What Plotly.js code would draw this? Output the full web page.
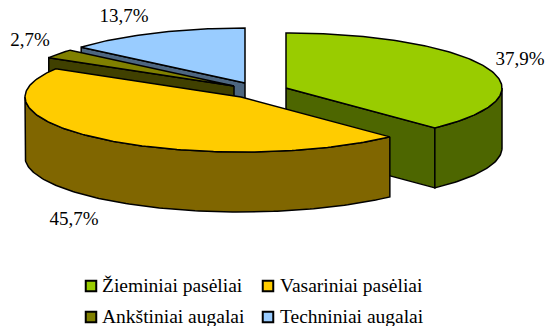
<!DOCTYPE html>
<html><head><meta charset="utf-8">
<script src="https://cdn.plot.ly/plotly-3.0.1.min.js"></script>
<style>html,body{margin:0;padding:0;background:#fff}#c{width:546px;height:326px}</style>
</head><body><div id="c"></div>
<script>
const categories = ["Žieminiai pasėliai","Vasariniai pasėliai","Ankštiniai augalai","Techniniai augalai"];
const values = [37.9,45.7,2.7,13.7];

// style / placement
const topColors  = ["#99CC00","#FFCC00","#808000","#99CCFF"];
const sideColors = ["#4D6600","#806600","#404000","#4D6680"];
const centers = [[286,88],[241,97],[234,86],[245,83]];
const labelPos = [[520,60],[74,220],[30,41],[124,17.5]];
const swatchPos = [[91,286],[268,286],[91,317],[268,317]];
const legendTextPos = [[102,287],[280,287],[102,318],[280,318]];
const RX=216, RY=55, DEPTH=60, FONT="'Liberation Serif','Times New Roman',serif";

const pt=(c,deg,dz=0)=>{const r=deg*Math.PI/180;return [c[0]+RX*Math.sin(r),c[1]-RY*Math.cos(r)+dz];};
const arc=(c,a,b,dz=0)=>{const n=Math.max(2,Math.ceil(Math.abs(b-a)));const o=[];for(let i=0;i<=n;i++)o.push(pt(c,a+(b-a)*i/n,dz));return o;};
const poly=(pts,fill,name)=>({type:'scatter',mode:'lines',x:pts.map(p=>p[0]),y:pts.map(p=>p[1]),fill:'toself',fillcolor:fill,
  line:{color:'#000',width:1.5,shape:'linear'},hoverinfo:'skip',showlegend:false,name});

let acc=0; const ranges=values.map(v=>{const s=acc;acc+=v*3.6;return [s,acc];});
const topFace=i=>{const c=centers[i],[a,b]=ranges[i];return poly([c,...arc(c,a,b),c],topColors[i],categories[i]);};
const cutFace=(i,deg)=>{const c=centers[i],p=pt(c,deg);return poly([c,p,[p[0],p[1]+DEPTH],[c[0],c[1]+DEPTH],c],sideColors[i],categories[i]);};
const rimFace=(i,a,b)=>{const c=centers[i];const t=arc(c,a,b),u=arc(c,b,a,DEPTH);return poly([...t,...u,t[0]],sideColors[i],categories[i]);};

const traces=[
  cutFace(3,ranges[3][0]), topFace(3),
  cutFace(2,ranges[2][0]), topFace(2),
  cutFace(0,ranges[0][1]), rimFace(0,90,ranges[0][1]), topFace(0),
  rimFace(1,ranges[1][0],270), topFace(1),
  {type:'scatter',mode:'text',x:labelPos.map(p=>p[0]),y:labelPos.map(p=>p[1]),
   text:values.map(v=>v.toFixed(1).replace('.',',')+'%'),textposition:'middle center',
   textfont:{family:FONT,size:19,color:'#000'},hoverinfo:'skip',showlegend:false},
  {type:'scatter',mode:'markers',x:swatchPos.map(p=>p[0]),y:swatchPos.map(p=>p[1]),
   marker:{symbol:'square',size:10.5,color:topColors,line:{color:'#000',width:2}},hoverinfo:'skip',showlegend:false},
  {type:'scatter',mode:'text',x:legendTextPos.map(p=>p[0]),y:legendTextPos.map(p=>p[1]),
   text:categories,textposition:'middle right',textfont:{family:FONT,size:19.5,color:'#000'},hoverinfo:'skip',showlegend:false}
];
const hidden={range:[0,546],visible:false,fixedrange:true};
Plotly.newPlot('c',traces,{
  width:546,height:326,margin:{l:0,r:0,t:0,b:0},paper_bgcolor:'#fff',plot_bgcolor:'#fff',showlegend:false,
  xaxis:hidden,yaxis:{...hidden,range:[326,0]}
},{displayModeBar:false,staticPlot:true});
</script></body></html>
